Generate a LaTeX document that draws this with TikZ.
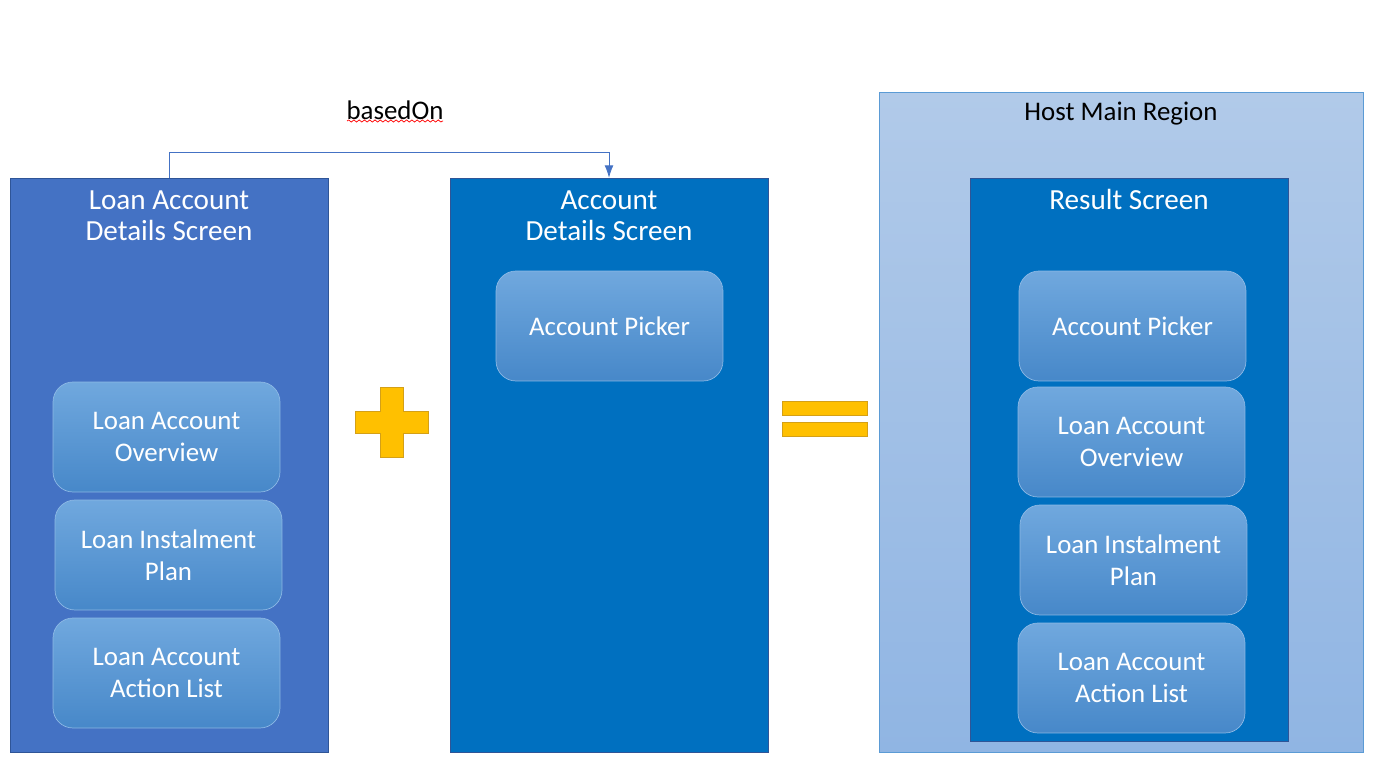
\documentclass[tikz,border=0pt]{standalone}
\usepackage{fontspec}
\setmainfont{Carlito}
\usetikzlibrary{positioning}
\usetikzlibrary{arrows.meta,decorations.pathmorphing}

\definecolor{loanblue}{HTML}{4472C4}
\definecolor{screenblue}{HTML}{0070C0}
\definecolor{edgeblue}{HTML}{2F5597}
\definecolor{partup}{HTML}{70A8DE}
\definecolor{partdown}{HTML}{4788C9}
\definecolor{hostup}{HTML}{B1CAE9}
\definecolor{hostdown}{HTML}{90B5E3}
\definecolor{hostedge}{HTML}{5B9BD5}
\definecolor{signfill}{HTML}{FFC000}
\definecolor{signedge}{HTML}{D4A017}

\tikzset{
  screen/.style={draw=edgeblue,fill=#1,minimum width=6.36cm,inner sep=0pt},
  part/.style={draw=partup!80!white,rounded corners=0.4cm,top color=partup,
    bottom color=partdown,minimum width=4.54cm,minimum height=2.2cm,
    text=white,align=center,font=\fontsize{15.3}{18.2}\selectfont},
  title/.style={text=white,align=center,font=\fontsize{16.6}{17.6}\selectfont},
  sign/.style={draw=signedge,fill=signfill},
}

\begin{document}
\begin{tikzpicture}[x=0.02cm,y=-0.02cm]
 \useasboundingbox (0,0) rectangle (1385,763);
 % the two source screens
 \node[screen=loanblue,minimum height=11.48cm] (loan) at (169,465) {};
 \node[screen=screenblue,minimum height=11.48cm] (acct) at (609,465) {};
 \node[title] (loantitle) at (169,215.5) {Loan Account\\Details Screen};
 \node[title] (accttitle) at (609,215.5) {Account\\Details Screen};
 \node[part] (loanover) at (166.5,437) {Loan Account\\Overview};
 \node[part] (loanplan) at (168.5,555) {Loan Instalment\\Plan};
 \node[part] (loanact) at (166.5,673) {Loan Account\\Action List};
 \node[part] (acctpick) at (609.5,326) {Account Picker};
 % basedOn link
 \coordinate (bend1) at (169,152);
 \coordinate (bend2) at (609,152);
 \draw[loanblue,thin,-{Latex[length=7pt,width=5pt]}] (loan.north) -- (bend1) -- (bend2) -- (acct.north);
 \node[font=\fontsize{15.3}{18}\selectfont] (based) at (395,110) {basedOn};
 \draw[red,line width=0.4pt,decorate,decoration={snake,amplitude=0.6,segment length=3}]
   (347,121) -- (443,121);
 % plus and equals
 \fill[sign] (380,387) -- (403,387) -- (403,411) -- (428,411) -- (428,433) -- (403,433)
   -- (403,457) -- (380,457) -- (380,433) -- (355,433) -- (355,411) -- (380,411) -- cycle;
 \draw[sign] (782,401) rectangle (867,415);
 \draw[sign] (782,422) rectangle (867,436);
 % result
 \node[draw=hostedge,top color=hostup,bottom color=hostdown,minimum width=9.68cm,
   minimum height=13.2cm,inner sep=0pt] (host) at (1121,422) {};
 \node[font=\fontsize{15.3}{19}\selectfont] (hosttitle) at (1121,114) {Host Main Region};
 \node[screen=screenblue,minimum height=11.26cm] (result) at (1129,459.5) {};
 \node[title] (resulttitle) at (1129,199) {Result Screen};
 \node[part] (respick) at (1132.5,326) {Account Picker};
 \node[part] (resover) at (1131.5,442) {Loan Account\\Overview};
 \node[part] (resplan) at (1133.5,560) {Loan Instalment\\Plan};
 \node[part] (resact) at (1131.5,678) {Loan Account\\Action List};
\end{tikzpicture}
\end{document}
